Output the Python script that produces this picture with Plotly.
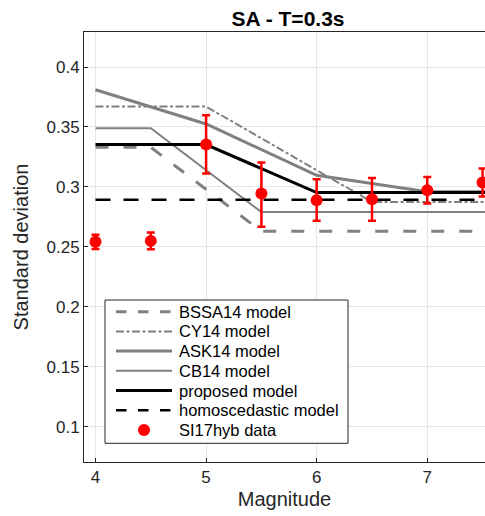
import plotly.graph_objects as go

# Model curves (magnitude, sigma)
bssa_m = [4.0, 4.5, 5.5, 7.6]
bssa_s = [0.333, 0.333, 0.263, 0.263]

cy_m = [4.0, 5.0, 6.5, 7.6]
cy_s = [0.367, 0.367, 0.2875, 0.2875]

ask_m = [4.0, 5.0, 6.0, 7.0, 7.6]
ask_s = [0.381, 0.3525, 0.3097, 0.296, 0.296]

cb_m = [4.0, 4.5, 5.5, 7.6]
cb_s = [0.349, 0.349, 0.279, 0.279]

prop_m = [4.0, 5.0, 6.0, 7.6]
prop_s = [0.3353, 0.3353, 0.2953, 0.2953]

homo_m = [4.0, 7.6]
homo_s = [0.2893, 0.2893]

# SI17hyb data
data_m = [4.0, 4.5, 5.0, 5.5, 6.0, 6.5, 7.0, 7.5]
data_s = [0.2542, 0.255, 0.3353, 0.2945, 0.2889, 0.2898, 0.2972, 0.3036]
err_plus = [0.006, 0.007, 0.0244, 0.0258, 0.0175, 0.0177, 0.0111, 0.0117]
err_minus = [0.006, 0.007, 0.0242, 0.0278, 0.0172, 0.0181, 0.0111, 0.0116]

legend_names = ["BSSA14 model", "CY14 model", "ASK14 model", "CB14 model",
                "proposed model", "homoscedastic model", "SI17hyb data"]

gray = "#808080"
styles = [
    dict(color=gray, width=3, dash="13px,15px"),
    dict(color=gray, width=2, dash="8px,2.5px,3px,2.5px"),
    dict(color=gray, width=3, dash="solid"),
    dict(color=gray, width=2, dash="solid"),
    dict(color="black", width=3, dash="solid"),
    dict(color="black", width=2.5, dash="15px,13px"),
]
legend_styles = [
    dict(color=gray, width=3, dash="10.5px,11.5px"),
    dict(color=gray, width=2, dash="8px,2.5px,3px,2.5px"),
    dict(color=gray, width=3, dash="solid"),
    dict(color=gray, width=2, dash="solid"),
    dict(color="black", width=3, dash="solid"),
    dict(color="black", width=2.5, dash="10.5px,11.5px"),
]

fig = go.Figure()
curves = [(bssa_m, bssa_s), (cy_m, cy_s), (ask_m, ask_s), (cb_m, cb_s),
          (prop_m, prop_s), (homo_m, homo_s)]
for (mx, sy), name, st in zip(curves, legend_names, styles):
    fig.add_trace(go.Scatter(x=mx, y=sy, mode="lines", name=name, line=st))
fig.add_trace(go.Scatter(x=data_m, y=data_s, mode="markers", name=legend_names[-1],
                         marker=dict(color="#ff0000", size=12),
                         error_y=dict(type="data", symmetric=False, array=err_plus,
                                      arrayminus=err_minus, color="#ff0000",
                                      thickness=2.5, width=4)))

# Plot-area geometry (pixels) for the hand-built legend box
W, H = 485, 516
L, R, T, B = 84, 0, 32, 54
PW, PH = W - L - R, H - T - B


def px(x):
    return (x - L) / PW


def py(y):
    return (H - B - y) / PH


shapes = [dict(type="rect", xref="paper", yref="paper",
               x0=px(105), x1=px(348), y0=py(443.3), y1=py(300),
               line=dict(color="#262626", width=1), fillcolor="white", layer="above")]
annotations = []
row0, row_gap = 311.7, 19.7
for i, name in enumerate(legend_names):
    yc = row0 + i * row_gap
    if i < len(legend_styles):
        shapes.append(dict(type="line", xref="paper", yref="paper",
                           x0=px(116), x1=px(172), y0=py(yc), y1=py(yc),
                           line=legend_styles[i], layer="above"))
    else:
        shapes.append(dict(type="circle", xref="paper", yref="paper",
                           x0=px(138), x1=px(150), y0=py(yc + 6), y1=py(yc - 6),
                           line=dict(width=0), fillcolor="#ff0000", layer="above"))
    annotations.append(dict(text=name, xref="paper", yref="paper", x=px(177), y=py(yc),
                            xanchor="left", yanchor="middle", showarrow=False,
                            font=dict(size=16.5, color="black")))

font = "Liberation Sans, Arial, Helvetica, sans-serif"
fig.update_layout(
    width=W, height=H,
    margin=dict(l=L, r=R, t=T, b=B),
    paper_bgcolor="white", plot_bgcolor="white",
    font=dict(family=font, size=17, color="#262626"),
    title=dict(text="<b>SA - T=0.3s</b>", x=288 / W, xanchor="center",
               y=1 - 18.5 / H, yanchor="middle", font=dict(size=21, color="black")),
    showlegend=False,
    shapes=shapes,
    annotations=annotations,
)
fig.update_xaxes(range=[3.896, 7.522], tickvals=[4, 5, 6, 7], ticktext=["4", "5", "6", "7"],
                 showgrid=True, gridcolor="#e6e6e6", gridwidth=1,
                 showline=True, linecolor="#262626", linewidth=1, mirror=True,
                 ticks="inside", ticklen=4, tickcolor="#262626", zeroline=False,
                 title=dict(text="Magnitude", font=dict(size=20), standoff=5),
                 tickfont=dict(size=17))
fig.update_yaxes(range=[0.0706, 0.4292],
                 tickvals=[0.1, 0.15, 0.2, 0.25, 0.3, 0.35, 0.4],
                 ticktext=["0.1", "0.15", "0.2", "0.25", "0.3", "0.35", "0.4"],
                 showgrid=True, gridcolor="#e6e6e6", gridwidth=1,
                 showline=True, linecolor="#262626", linewidth=1,
                 ticks="inside", ticklen=4, tickcolor="#262626", zeroline=False,
                 title=dict(text="Standard deviation", font=dict(size=20), standoff=12),
                 tickfont=dict(size=17))
fig.write_html("out.html")
